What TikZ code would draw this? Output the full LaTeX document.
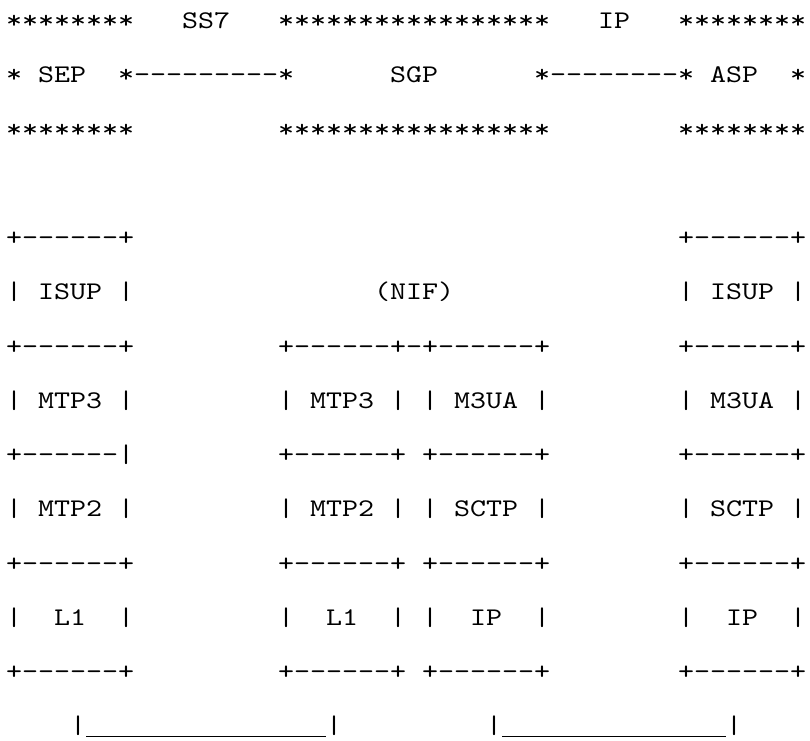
\documentclass[tikz,border=0pt]{standalone}
\usepackage{fontspec}
\newfontfamily\asciifont{lmmono10-regular.otf}[FakeStretch=1.2]
\newcommand\asciiseg[4]{\node[txt] (#1) at ({6+16*#2},{-28.7-54.24*#3}) {#4};}
\begin{document}
\begin{tikzpicture}[x=1pt,y=1pt,
  txt/.style={inner sep=0pt, outer sep=0pt, anchor=base west,
    font=\asciifont\fontsize{25.4}{30}\selectfont},
  uline/.style={line width=1.3pt, black}]
\useasboundingbox (0,0) rectangle (810,-740);
% row 0
\asciiseg{a0}{0}{0}{********}
\asciiseg{a1}{11}{0}{SS7}
\asciiseg{a2}{17}{0}{*****************}
\asciiseg{a3}{37}{0}{IP}
\asciiseg{a4}{42}{0}{********}
% row 1
\asciiseg{b0}{0}{1}{*}
\asciiseg{b1}{2}{1}{SEP}
\asciiseg{b2}{7}{1}{*---------*}
\asciiseg{b3}{24}{1}{SGP}
\asciiseg{b4}{33}{1}{*--------*}
\asciiseg{b5}{44}{1}{ASP}
\asciiseg{b6}{49}{1}{*}
% row 2
\asciiseg{c0}{0}{2}{********}
\asciiseg{c1}{17}{2}{*****************}
\asciiseg{c2}{42}{2}{********}
% row 4
\asciiseg{e0}{0}{4}{+------+}
\asciiseg{e1}{42}{4}{+------+}
% row 5
\asciiseg{f0}{0}{5}{|}
\asciiseg{f1}{2}{5}{ISUP}
\asciiseg{f2}{7}{5}{|}
\asciiseg{f3}{23}{5}{(NIF)}
\asciiseg{f4}{42}{5}{|}
\asciiseg{f5}{44}{5}{ISUP}
\asciiseg{f6}{49}{5}{|}
% row 6
\asciiseg{g0}{0}{6}{+------+}
\asciiseg{g1}{17}{6}{+------+-+------+}
\asciiseg{g2}{42}{6}{+------+}
% row 7
\asciiseg{h0}{0}{7}{|}
\asciiseg{h1}{2}{7}{MTP3}
\asciiseg{h2}{7}{7}{|}
\asciiseg{h3}{17}{7}{|}
\asciiseg{h4}{19}{7}{MTP3}
\asciiseg{h5}{24}{7}{|}
\asciiseg{h6}{26}{7}{|}
\asciiseg{h7}{28}{7}{M3UA}
\asciiseg{h8}{33}{7}{|}
\asciiseg{h9}{42}{7}{|}
\asciiseg{h10}{44}{7}{M3UA}
\asciiseg{h11}{49}{7}{|}
% row 8
\asciiseg{i0}{0}{8}{+------|}
\asciiseg{i1}{17}{8}{+------+}
\asciiseg{i2}{26}{8}{+------+}
\asciiseg{i3}{42}{8}{+------+}
% row 9
\asciiseg{j0}{0}{9}{|}
\asciiseg{j1}{2}{9}{MTP2}
\asciiseg{j2}{7}{9}{|}
\asciiseg{j3}{17}{9}{|}
\asciiseg{j4}{19}{9}{MTP2}
\asciiseg{j5}{24}{9}{|}
\asciiseg{j6}{26}{9}{|}
\asciiseg{j7}{28}{9}{SCTP}
\asciiseg{j8}{33}{9}{|}
\asciiseg{j9}{42}{9}{|}
\asciiseg{j10}{44}{9}{SCTP}
\asciiseg{j11}{49}{9}{|}
% row 10
\asciiseg{k0}{0}{10}{+------+}
\asciiseg{k1}{17}{10}{+------+}
\asciiseg{k2}{26}{10}{+------+}
\asciiseg{k3}{42}{10}{+------+}
% row 11
\asciiseg{l0}{0}{11}{|}
\asciiseg{l1}{3}{11}{L1}
\asciiseg{l2}{7}{11}{|}
\asciiseg{l3}{17}{11}{|}
\asciiseg{l4}{20}{11}{L1}
\asciiseg{l5}{24}{11}{|}
\asciiseg{l6}{26}{11}{|}
\asciiseg{l7}{29}{11}{IP}
\asciiseg{l8}{33}{11}{|}
\asciiseg{l9}{42}{11}{|}
\asciiseg{l10}{45}{11}{IP}
\asciiseg{l11}{49}{11}{|}
% row 12
\asciiseg{m0}{0}{12}{+------+}
\asciiseg{m1}{17}{12}{+------+}
\asciiseg{m2}{26}{12}{+------+}
\asciiseg{m3}{42}{12}{+------+}
% row 13: bars joined by underscore lines
\asciiseg{n0}{4}{13}{|}
\asciiseg{n1}{20}{13}{|}
\asciiseg{n2}{30}{13}{|}
\asciiseg{n3}{45}{13}{|}
\draw[uline] ([yshift=-3pt]n0.base east) -- ([yshift=-3pt]n1.base west);
\draw[uline] ([yshift=-3pt]n2.base east) -- ([yshift=-3pt]n3.base west);
\end{tikzpicture}
\end{document}
